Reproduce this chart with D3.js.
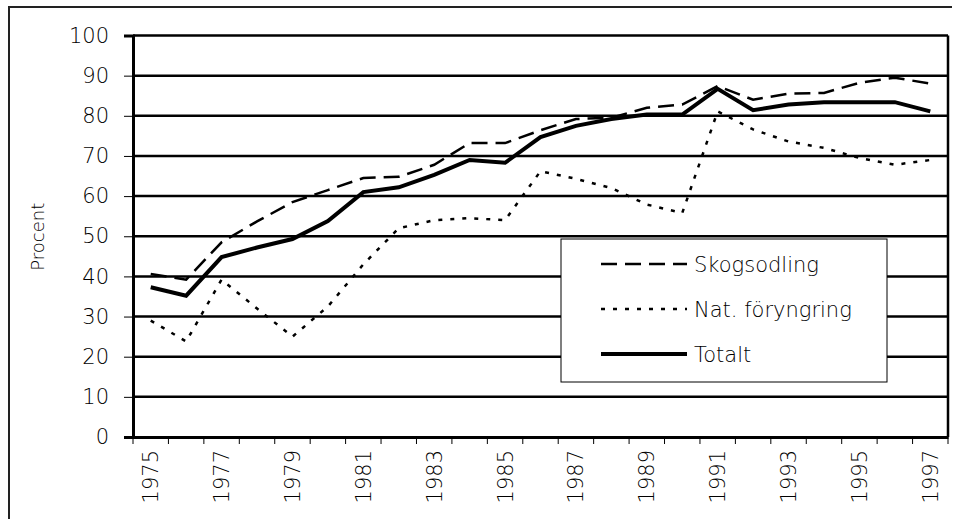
<!DOCTYPE html>
<html>
<head>
<meta charset="utf-8">
<script src="https://cdn.jsdelivr.net/npm/d3@7"></script>
<style>
  body { margin: 0; background: #fff; }
  svg { display: block; font-family: "DejaVu Sans", sans-serif; font-weight: 200; }
</style>
</head>
<body>
<div id="chart"></div>
<script>
const years = d3.range(1975, 1998)
const yTicks = [0, 10, 20, 30, 40, 50, 60, 70, 80, 90, 100]

const skogsodling = [40.6, 39.2, 48.5, 53.7, 58.5, 61.5, 64.5, 64.8, 67.8, 73.2, 73.2, 76.4, 79.2, 79.5, 82, 82.8, 87.4, 84, 85.5, 85.7, 88.2, 89.5, 88]
const natForyngring = [29, 23.8, 39.2, 32, 25, 32.5, 43, 52, 54, 54.5, 54, 66.2, 64.3, 62, 57.9, 55.8, 81.1, 76.6, 73.6, 72, 69.5, 67.8, 69]
const totalt = [37.3, 35.2, 44.8, 47.2, 49.3, 53.8, 61, 62.2, 65.3, 69, 68.3, 74.7, 77.5, 79.2, 80.3, 80.3, 86.7, 81.4, 82.8, 83.4, 83.4, 83.4, 81.1]

const series = [
  { name: "Skogsodling", values: skogsodling, width: 2.5, dash: "16,8" },
  { name: "Nat. föryngring", values: natForyngring, width: 2.5, dash: "4,8" },
  { name: "Totalt", values: totalt, width: 4, dash: null },
]

const width = 956
const height = 519
const margin = { top: 35.5, right: 8, bottom: 82, left: 133 }
const plotW = width - margin.left - margin.right
const plotH = height - margin.top - margin.bottom
const textColor = "#000"

const svg = d3
  .select("#chart")
  .append("svg")
  .attr("width", width)
  .attr("height", height)

// outer frame (right and bottom edges fall outside the picture)
svg
  .append("path")
  .attr("d", `M9,${height + 2}V7H952`)
  .attr("fill", "none")
  .attr("stroke", "#222")
  .attr("stroke-width", 2)

const g = svg
  .append("g")
  .attr("transform", `translate(${margin.left},${margin.top})`)

const x = d3
  .scaleBand()
  .domain(years)
  .range([0, plotW])

const y = d3
  .scaleLinear()
  .domain([0, 100])
  .range([plotH, 0])

// gridlines
g.append("g")
  .selectAll("line")
  .data(yTicks.filter(d => d > 0))
  .enter()
  .append("line")
  .attr("x1", 0)
  .attr("x2", plotW)
  .attr("y1", d => y(d))
  .attr("y2", d => y(d))
  .attr("stroke", "#000")
  .attr("stroke-width", 2.5)

// right border of plot
g.append("line")
  .attr("x1", plotW)
  .attr("x2", plotW)
  .attr("y1", y(100))
  .attr("y2", y(0))
  .attr("stroke", "#000")
  .attr("stroke-width", 2.5)

// y axis
const yAxis = g
  .append("g")
  .call(d3.axisLeft(y).tickValues(yTicks).tickSize(9).tickPadding(15))
yAxis.attr("font-family", null)
yAxis.select(".domain").attr("stroke-width", 3)
yAxis.selectAll(".tick line").attr("stroke-width", 1)
yAxis
  .selectAll(".tick text")
  .attr("font-size", 21)
  .attr("fill", textColor)

// x axis, ticks between categories
const xAxis = g
  .append("g")
  .attr("transform", `translate(0,${plotH})`)
  .call(d3.axisBottom(x).tickSize(0).tickFormat(""))
xAxis.select(".domain").attr("stroke-width", 3)

g.append("g")
  .selectAll("line")
  .data(years.concat([years[years.length - 1] + 1]))
  .enter()
  .append("line")
  .attr("x1", (d, i) => i * x.step())
  .attr("x2", (d, i) => i * x.step())
  .attr("y1", plotH)
  .attr("y2", plotH + 7)
  .attr("stroke", "#000")
  .attr("stroke-width", 1)

g.append("g")
  .selectAll("text")
  .data(years.filter((d, i) => i % 2 === 0))
  .enter()
  .append("text")
  .attr("transform", d => `translate(${x(d) + x.bandwidth() / 2},${plotH + 13}) rotate(-90)`)
  .attr("text-anchor", "end")
  .attr("dy", "0.36em")
  .attr("font-size", 21)
  .attr("fill", textColor)
  .text(d => d)

// y label
svg
  .append("text")
  .attr("transform", `translate(38,${margin.top + plotH / 2 + 0.5}) rotate(-90)`)
  .attr("text-anchor", "middle")
  .attr("dy", "0.36em")
  .attr("font-size", 18)
  .attr("fill", textColor)
  .text("Procent")

// lines
const line = d3
  .line()
  .x((d, i) => x(years[i]) + x.bandwidth() / 2)
  .y(d => y(d))

g.selectAll(".series")
  .data(series)
  .enter()
  .append("path")
  .attr("class", "series")
  .attr("d", d => line(d.values))
  .attr("fill", "none")
  .attr("stroke", "#000")
  .attr("stroke-width", d => d.width)
  .attr("stroke-dasharray", d => d.dash)

// legend
const legend = svg
  .append("g")
  .attr("transform", "translate(561,239)")

legend
  .append("rect")
  .attr("width", 326)
  .attr("height", 143)
  .attr("fill", "#fff")
  .attr("stroke", "#000")
  .attr("stroke-width", 1)

const item = legend
  .selectAll(".item")
  .data(series)
  .enter()
  .append("g")
  .attr("class", "item")
  .attr("transform", (d, i) => `translate(0,${25 + i * 45})`)

item
  .append("line")
  .attr("x1", 40)
  .attr("x2", 126)
  .attr("stroke", "#000")
  .attr("stroke-width", d => d.width)
  .attr("stroke-dasharray", d => d.dash)

item
  .append("text")
  .attr("x", 133)
  .attr("dy", "0.36em")
  .attr("font-size", 21)
  .attr("fill", textColor)
  .text(d => d.name)
</script>
</body>
</html>
